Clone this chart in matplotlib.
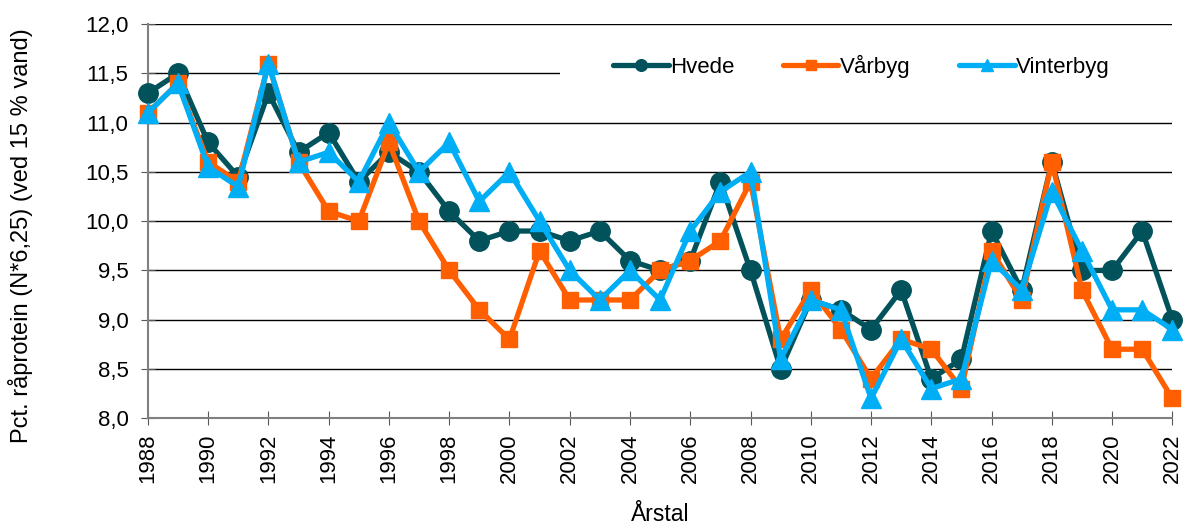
import numpy as np
import matplotlib.pyplot as plt
from matplotlib.patches import Rectangle
from matplotlib.ticker import FuncFormatter

plt.rcParams['font.family'] = ['Liberation Sans', 'DejaVu Sans']

# Råproteinindhold i kerne, 1988-2022
aar = list(range(1988, 2023))

hvede = [11.3, 11.5, 10.8, 10.45, 11.3, 10.7, 10.9, 10.4, 10.7, 10.5,
         10.1, 9.8, 9.9, 9.9, 9.8, 9.9, 9.6, 9.5, 9.6, 10.4,
         9.5, 8.5, 9.2, 9.1, 8.9, 9.3, 8.4, 8.6, 9.9, 9.3,
         10.6, 9.5, 9.5, 9.9, 9.0]

vaarbyg = [11.1, 11.4, 10.6, 10.4, 11.6, 10.6, 10.1, 10.0, 10.8, 10.0,
           9.5, 9.1, 8.8, 9.7, 9.2, 9.2, 9.2, 9.5, 9.6, 9.8,
           10.4, 8.8, 9.3, 8.9, 8.4, 8.8, 8.7, 8.3, 9.7, 9.2,
           10.6, 9.3, 8.7, 8.7, 8.2]

vinterbyg = [11.1, 11.4, 10.55, 10.35, 11.6, 10.6, 10.7, 10.4, 11.0, 10.5,
             10.8, 10.2, 10.5, 10.0, 9.5, 9.2, 9.5, 9.2, 9.9, 10.3,
             10.5, 8.6, 9.2, 9.1, 8.2, 8.8, 8.3, 8.4, 9.6, 9.3,
             10.3, 9.7, 9.1, 9.1, 8.9]

serier = [
    ("Hvede", hvede, '#02525B', 'o', 14),
    ("Vårbyg", vaarbyg, '#FF5F00', 's', 11.5),
    ("Vinterbyg", vinterbyg, '#00AEF5', '^', 14),
]

fig = plt.figure(figsize=(11.83, 5.26), dpi=100)
ax = fig.add_axes([0.125, 0.205, 0.866, 0.749])

for navn, vals, farve, mark, ms in serier:
    ax.plot(aar, vals, color=farve, marker=mark, markersize=ms, linewidth=3.8,
            solid_capstyle='round', label=navn, clip_on=False, zorder=3)

ax.set_xlim(1988, 2022)
ax.set_ylim(8.0, 12.0)
ax.set_xticks(range(1988, 2023, 2))
ax.set_yticks(np.arange(8.0, 12.01, 0.5))
ax.yaxis.set_major_formatter(FuncFormatter(lambda v, p: f"{v:.1f}".replace('.', ',')))
ax.tick_params(axis='x', labelrotation=90, direction='inout', length=10,
               color='#595959', labelsize=16, pad=6)
ax.tick_params(axis='y', direction='inout', length=10, color='#595959',
               labelsize=16, pad=9)

ax.grid(axis='y', color='black', linewidth=1.0)
ax.set_axisbelow(True)
for side in ['top', 'right']:
    ax.spines[side].set_visible(False)
for side in ['left', 'bottom']:
    ax.spines[side].set_color('#808080')
    ax.spines[side].set_linewidth(1.5)

ax.set_ylabel("Pct. råprotein (N*6,25) (ved 15 % vand)", fontsize=17)
ax.yaxis.set_label_coords(-0.112, 0.464)
ax.set_xlabel("Årstal", fontsize=16.5, labelpad=14)

# hvid baggrund bag forklaringen
ax.add_patch(Rectangle((0.402, 0.80), 0.62, 0.16, transform=ax.transAxes,
                       facecolor='white', edgecolor='none', zorder=1, clip_on=False))
ax.legend(loc='center left', bbox_to_anchor=(0.454, 0.893), borderaxespad=0,
          ncol=3, fontsize=16, frameon=False, handlelength=2.5, handletextpad=0.05,
          columnspacing=2.2, markerscale=0.6, borderpad=0)

fig.savefig('out.png', dpi=100)
